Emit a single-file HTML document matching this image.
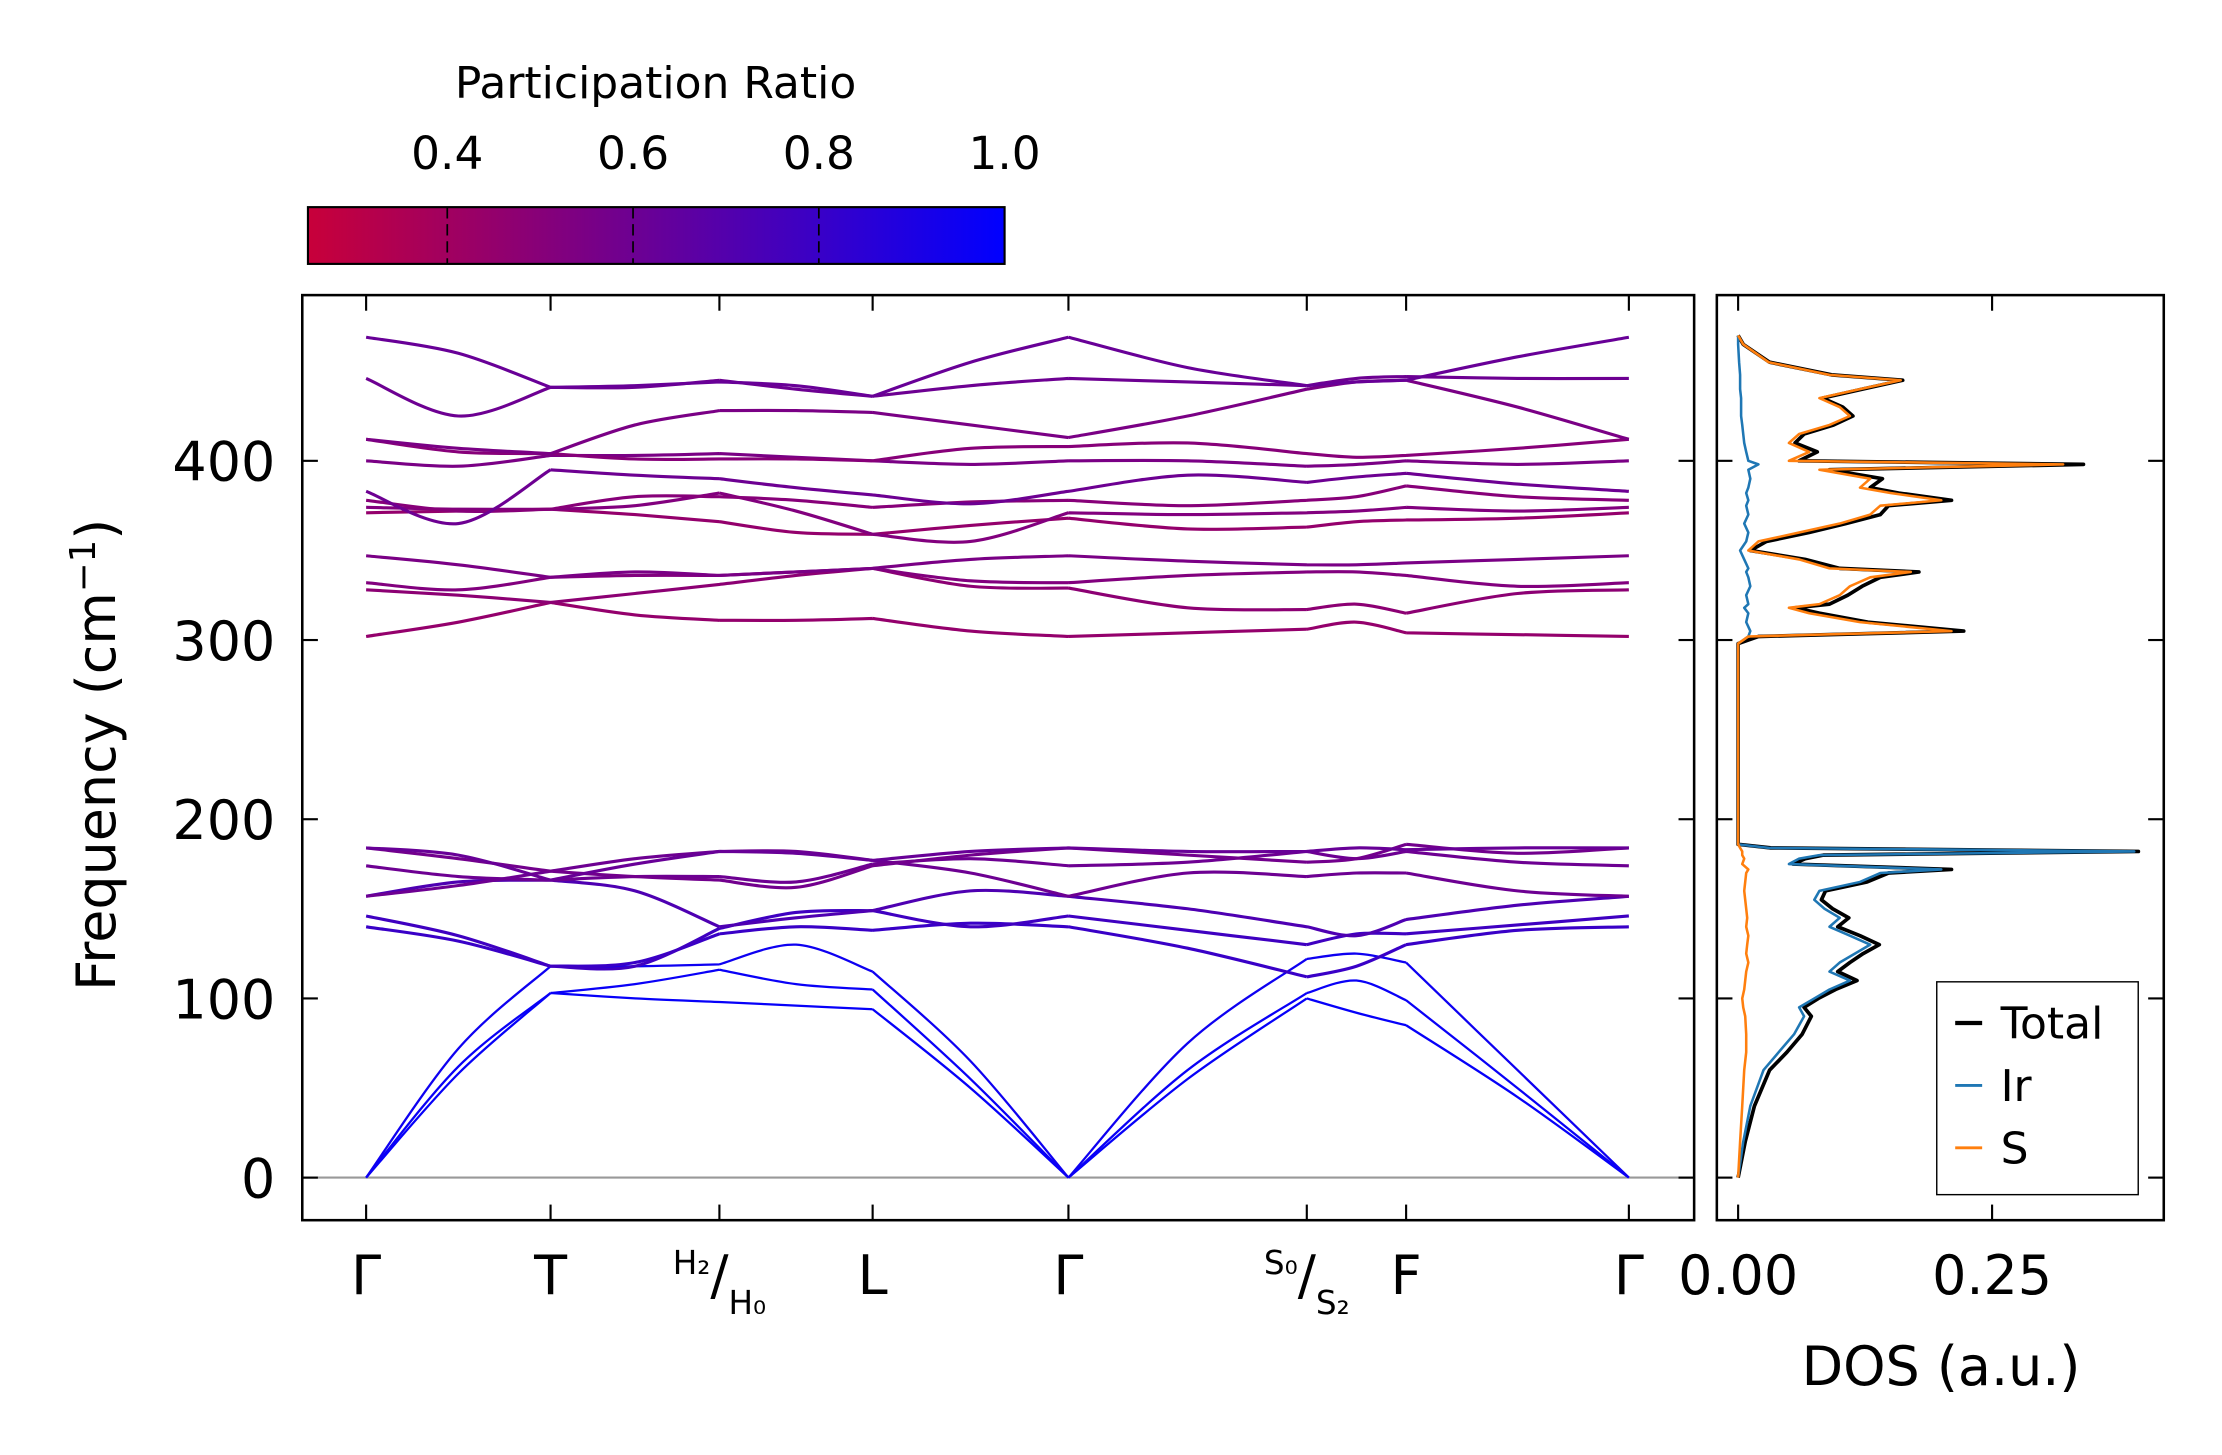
<!DOCTYPE html>
<html><head><meta charset="utf-8"><style>
html,body{margin:0;padding:0;background:#fff;}
svg{display:block;font-family:"DejaVu Sans","Liberation Sans",sans-serif;}
</style></head><body>
<svg id="fig" width="2222" height="1455" viewBox="0 0 1566 1025.5" xmlns="http://www.w3.org/2000/svg">
<defs>
<linearGradient id="cmap" x1="0" x2="1" y1="0" y2="0">
<stop offset="0" stop-color="#c8003a"/><stop offset="0.4" stop-color="#7a0085"/><stop offset="0.7" stop-color="#4000c0"/><stop offset="1" stop-color="#0000ff"/>
</linearGradient>
<clipPath id="clipMain"><rect x="213" y="208" width="981" height="652"/></clipPath>
<clipPath id="clipDos"><rect x="1210" y="208" width="315" height="652"/></clipPath>
</defs>
<g>
<text x="462" y="69" font-size="31" text-anchor="middle">Participation Ratio</text>
<rect x="217" y="146" width="491" height="40" fill="url(#cmap)" stroke="#000" stroke-width="1.5"/>
<g id="cbticks"></g>
</g>
<g id="main">
<line x1="213" x2="1194" y1="830" y2="830" stroke="#999" stroke-width="1.5"/>
<g id="bands" clip-path="url(#clipMain)"></g>
<rect x="213" y="208" width="981" height="652" fill="none" stroke="#000" stroke-width="1.8"/>
<g id="mainticks"></g>
<text transform="translate(81,532) rotate(-90)" font-size="38" text-anchor="middle">Frequency (cm<tspan font-size="25" dy="-14">−1</tspan><tspan dy="14">)</tspan></text>
</g>
<g id="dos">
<g id="dosLines" clip-path="url(#clipDos)"></g>
<rect x="1210" y="208" width="315" height="652" fill="none" stroke="#000" stroke-width="1.8"/>
<g id="dosticks"></g>
<text x="1368" y="976" font-size="38" text-anchor="middle">DOS (a.u.)</text>
<g>
<rect x="1365" y="692" width="142" height="150" fill="#fff" stroke="#000" stroke-width="1"/>
<line x1="1378" x2="1397" y1="721" y2="721" stroke="#000" stroke-width="3"/>
<text x="1410" y="732" font-size="31">Total</text>
<line x1="1378" x2="1397" y1="765" y2="765" stroke="#1f77b4" stroke-width="2"/>
<text x="1410" y="776" font-size="31">Ir</text>
<line x1="1378" x2="1397" y1="809" y2="809" stroke="#ff7f0e" stroke-width="2"/>
<text x="1410" y="820" font-size="31">S</text>
</g>
</g>
</svg>
<script>
// ---- data ----
const kLabels = ["Γ","T","H","L","Γ","S","F","Γ"];
const kTickPos = [0,130,249,357,495,663,733,890]; // path distance units
const yTicks = [0,100,200,300,400];
const cbTicks = [0.4,0.6,0.8,1.0];
const dosTicks = [0.00,0.25];
// bands sampled at 15 nodes (high-symmetry points + midpoints)
const bandLow1 = [0,58,103,100,98,96,94,50,0,55,100,92,85,45,0];
const bandLow2 = [0,62,103,108,116,108,105,55,0,60,103,110,99,50,0];
const bandLow3 = [0,72,118,118,119,130,115,65,0,75,122,125,120,60,0];
const bandLow4 = [140,132,118,120,136,140,138,142,140,128,112,118,130,138,140];
const bandLow5 = [146,135,118,118,139,148,149,140,146,138,130,136,136,141,146];
const bandLow6 = [157,165,166,160,140,145,149,160,157,150,140,135,144,152,157];
const bandLow7 = [157,163,171,178,182,182,177,170,157,170,168,170,170,160,157];
const bandLow8 = [174,168,166,168,168,165,175,178,174,176,182,178,182,176,174];
const bandLow9 = [184,178,171,168,166,162,174,180,184,180,176,178,186,181,184];
const bandLow10 = [184,180,166,175,182,181,177,182,184,182,182,184,183,184,184];
const bandHigh1 = [302,310,321,314,311,311,312,305,302,304,306,310,304,303,302];
const bandHigh2 = [328,325,321,326,331,336,340,330,329,318,317,320,315,326,328];
const bandHigh3 = [332,328,335,336,336,338,340,333,332,336,338,338,336,330,332];
const bandHigh4 = [347,342,335,338,336,338,340,345,347,344,342,342,343,345,347];
const bandHigh5 = [371,372,373,370,366,360,359,364,368,362,363,366,367,368,371];
const bandHigh6 = [374,373,373,375,382,372,359,355,371,370,371,372,374,372,374];
const bandHigh7 = [378,372,373,380,380,378,374,377,378,375,378,380,386,380,378];
const bandHigh8 = [383,365,395,392,390,385,381,376,383,392,388,391,393,387,383];
const bandHigh9 = [400,397,403,403,404,402,400,398,400,400,397,398,400,398,400];
const bandHigh10 = [412,405,404,401,401,401,400,407,408,410,404,402,403,407,412];
const bandHigh11 = [412,407,404,420,428,428,427,420,413,425,440,444,445,430,412];
const bandHigh12 = [446,425,441,441,445,440,436,442,446,444,442,446,447,446,446];
const bandHigh13 = [469,460,441,442,444,442,436,455,469,452,442,444,445,458,469];
const bandRatio = [0.98,0.97,0.95,0.8,0.78,0.72,0.6,0.6,0.58,0.62,0.45,0.48,0.52,0.55,0.45,0.52,0.5,0.6,0.55,0.5,0.55,0.6,0.62];
// DOS
const dosFreq = [0,20,40,60,70,80,90,95,100,105,110,115,120,125,130,135,140,145,150,155,160,165,170,172,175,178,180,182,184,186,188,200,250,298,300,302,305,310,315,318,320,325,330,335,338,340,345,350,355,360,365,370,375,378,382,385,390,395,398,400,405,410,415,420,425,430,435,440,445,448,455,465,470];
const dosIr = [0,0.005,0.012,0.025,0.04,0.055,0.065,0.06,0.075,0.09,0.11,0.09,0.10,0.115,0.13,0.11,0.09,0.10,0.085,0.075,0.08,0.12,0.14,0.20,0.05,0.06,0.08,0.39,0.03,0,0,0,0,0,0.005,0.01,0.012,0.008,0.01,0.006,0.01,0.008,0.012,0.01,0.008,0.01,0.006,0.002,0.008,0.01,0.006,0.01,0.008,0.01,0.008,0.01,0.012,0.01,0.02,0.01,0.008,0.006,0.005,0.004,0.003,0.003,0.003,0.002,0.002,0.002,0.001,0,0];
const dosS = [0,0.002,0.004,0.006,0.008,0.008,0.007,0.005,0.004,0.006,0.007,0.008,0.01,0.008,0.009,0.01,0.008,0.009,0.008,0.007,0.006,0.007,0.008,0.01,0.004,0.006,0.004,0.004,0.002,0,0,0,0,0,0.005,0.01,0.21,0.12,0.07,0.05,0.08,0.10,0.11,0.13,0.17,0.09,0.06,0.01,0.02,0.06,0.10,0.13,0.14,0.20,0.15,0.12,0.13,0.08,0.32,0.05,0.07,0.05,0.06,0.09,0.11,0.10,0.08,0.12,0.16,0.09,0.03,0.005,0];

// ---- axes ----
const SVGNS="http://www.w3.org/2000/svg";
const X0=258, X1=1148, Y0=830, YS=1.263;
const kx = d => X0 + d*(X1-X0)/890;
const fy = f => Y0 - f*YS;
const dx = v => 1225 + v*716;
const cbx = v => 217 + (v-0.25)*(708-217)/0.75;
function mk(tag, attrs, parent){const e=document.createElementNS(SVGNS,tag);for(const k in attrs)e.setAttribute(k,attrs[k]);parent.appendChild(e);return e;}
function cmapColor(r){
  const stops=[[0.25,[200,0,58]],[0.55,[122,0,133]],[0.775,[64,0,192]],[1,[0,0,255]]];
  r=Math.max(0.25,Math.min(1,r));
  for(let i=0;i<stops.length-1;i++){const a=stops[i],b=stops[i+1];if(r<=b[0]){const t=(r-a[0])/(b[0]-a[0]);return "rgb("+a[1].map((c,j)=>Math.round(c+(b[1][j]-c)*t)).join(",")+")";}}
  return "rgb(0,0,255)";
}
const nodeK=[];
for(let i=0;i<kTickPos.length;i++){nodeK.push(kTickPos[i]);if(i<kTickPos.length-1)nodeK.push((kTickPos[i]+kTickPos[i+1])/2);}
function spline(pts){
  let d="M"+pts[0][0].toFixed(1)+","+pts[0][1].toFixed(1);
  for(let i=0;i<pts.length-1;i++){
    const p0=pts[Math.max(0,i-1)],p1=pts[i],p2=pts[i+1],p3=pts[Math.min(pts.length-1,i+2)];
    const c1=[p1[0]+(p2[0]-p0[0])/6,p1[1]+(p2[1]-p0[1])/6];
    const c2=[p2[0]-(p3[0]-p1[0])/6,p2[1]-(p3[1]-p1[1])/6];
    d+="C"+c1.map(v=>v.toFixed(1)).join(",")+" "+c2.map(v=>v.toFixed(1)).join(",")+" "+p2[0].toFixed(1)+","+p2[1].toFixed(1);
  }
  return d;
}
const bands=[bandLow1,bandLow2,bandLow3,bandLow4,bandLow5,bandLow6,bandLow7,bandLow8,bandLow9,bandLow10,bandHigh1,bandHigh2,bandHigh3,bandHigh4,bandHigh5,bandHigh6,bandHigh7,bandHigh8,bandHigh9,bandHigh10,bandHigh11,bandHigh12,bandHigh13];
const gB=document.getElementById("bands");
bands.forEach((b,i)=>{
  let d="";
  for(let s=0;s<kTickPos.length-1;s++){
    const pts=[];for(let j=2*s;j<=2*s+2;j++)pts.push([kx(nodeK[j]),fy(b[j])]);
    d+=spline(pts);
  }
  const p=mk("path",{d:d,fill:"none",stroke:cmapColor(bandRatio[i]),"stroke-width":i<3?1.6:2.2},gB);
  
  
});
const gT=document.getElementById("mainticks");
kTickPos.forEach((k,i)=>{
  const x=kx(k);
  mk("line",{x1:x,x2:x,y1:208,y2:219,stroke:"#000","stroke-width":1.5},gT);
  mk("line",{x1:x,x2:x,y1:860,y2:849,stroke:"#000","stroke-width":1.5},gT);
  let t=mk("text",{x:x,y:912,"font-size":38,"text-anchor":"middle"},gT);
  if(kLabels[i]==="H"){
    t.innerHTML='<tspan font-size="23" dy="-14">H₂</tspan><tspan dy="14">/</tspan><tspan font-size="23" dy="14">H₀</tspan>';
  } else if(kLabels[i]==="S"){
    t.innerHTML='<tspan font-size="23" dy="-14">S₀</tspan><tspan dy="14">/</tspan><tspan font-size="23" dy="14">S₂</tspan>';
  } else {
    t.textContent=kLabels[i];
  }
  
  
});
yTicks.forEach(v=>{
  const y=fy(v);
  mk("line",{x1:213,x2:224,y1:y,y2:y,stroke:"#000","stroke-width":1.5},gT);
  mk("line",{x1:1194,x2:1183,y1:y,y2:y,stroke:"#000","stroke-width":1.5},gT);
  mk("line",{x1:1210,x2:1221,y1:y,y2:y,stroke:"#000","stroke-width":1.5},gT);
  mk("line",{x1:1525,x2:1514,y1:y,y2:y,stroke:"#000","stroke-width":1.5},gT);
  const t=mk("text",{x:194,y:y+14,"font-size":38,"text-anchor":"end"},gT);
  t.textContent=v;
  
  
});
const gC=document.getElementById("cbticks");
cbTicks.forEach(v=>{
  const x=cbx(v);
  if(v<1) mk("line",{x1:x,x2:x,y1:146,y2:186,stroke:"#000","stroke-width":1.2,"stroke-dasharray":"8,4"},gC);
  const t=mk("text",{x:x,y:119,"font-size":32,"text-anchor":"middle"},gC);
  t.textContent=v.toFixed(1);
  
  
});
const gD=document.getElementById("dosticks");
dosTicks.forEach(v=>{
  const x=dx(v);
  mk("line",{x1:x,x2:x,y1:860,y2:849,stroke:"#000","stroke-width":1.5},gD);
  mk("line",{x1:x,x2:x,y1:208,y2:219,stroke:"#000","stroke-width":1.5},gD);
  const t=mk("text",{x:x,y:912,"font-size":38,"text-anchor":"middle"},gD);
  t.textContent=v.toFixed(2);
  
  
});
const gL=document.getElementById("dosLines");
function poly(vals,color,w,name){
  const pts=dosFreq.map((f,i)=>dx(vals[i]).toFixed(1)+","+fy(f).toFixed(1)).join(" ");
  const p=mk("polyline",{points:pts,fill:"none",stroke:color,"stroke-width":w,"stroke-linejoin":"round"},gL);
  
  
}
const dosTotal=dosIr.map((v,i)=>v+dosS[i]);
poly(dosTotal,"#000",2.6,"dos-total-line");
poly(dosIr,"#1f77b4",1.8,"dos-ir-line");
poly(dosS,"#ff7f0e",1.8,"dos-s-line");
</script>
</body></html>
